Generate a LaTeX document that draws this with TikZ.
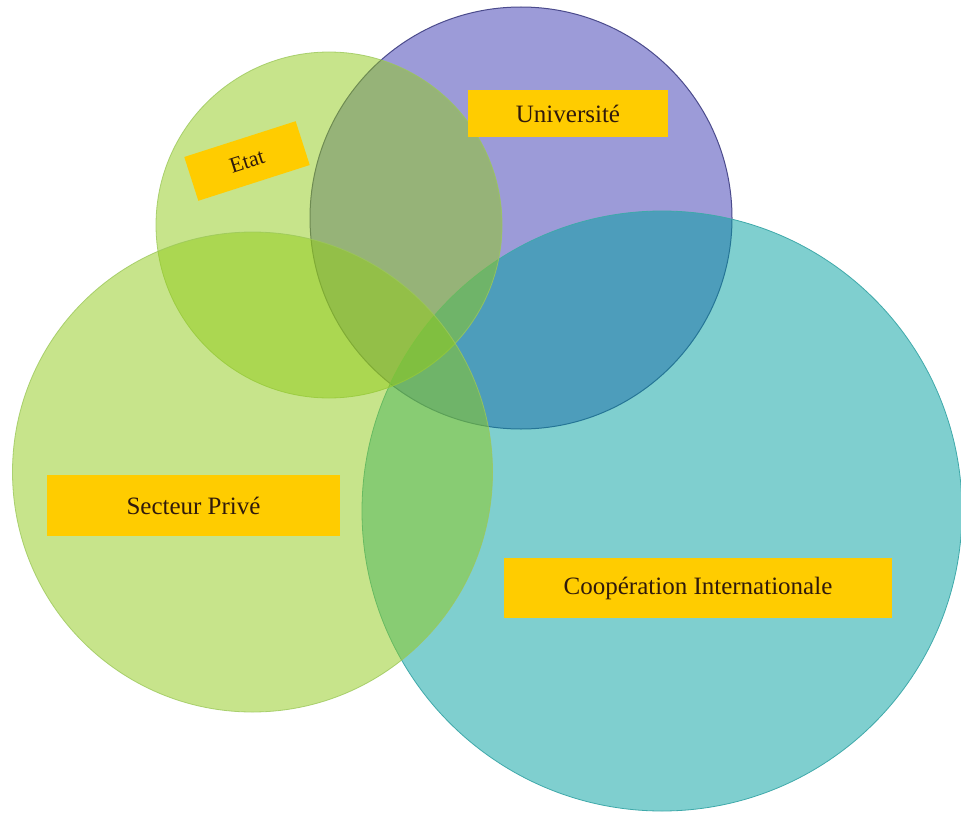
\documentclass[tikz,border=0pt]{standalone}
\usepackage{fontspec}
\setmainfont{Liberation Serif}
\definecolor{univfill}{HTML}{9C9BD8}
\definecolor{univline}{HTML}{4B4B8C}
\definecolor{tealbase}{HTML}{00A0A0}
\definecolor{tealline}{HTML}{3FA9AA}
\definecolor{greenbase}{HTML}{91CB19}
\definecolor{greenline}{HTML}{9CC85A}
\definecolor{labelfill}{HTML}{FFCC00}
\definecolor{labeltext}{HTML}{301A0C}
\tikzset{
  labelbox/.style={fill=labelfill, text=labeltext, inner sep=0pt, font=\fontsize{25}{28}\selectfont},
  greencircle/.style={fill=greenbase, fill opacity=0.5, draw=greenline, draw opacity=0.8, line width=0.8pt},
}
\begin{document}
\begin{tikzpicture}[x=1pt,y=-1pt]
\useasboundingbox (0,0) rectangle (961,816);
\fill[white] (0,0) rectangle (961,816);
% Universite circle
\draw[fill=univfill, draw=univline, line width=1pt] (521,218) circle[radius=211];
% Cooperation circle
\draw[fill=tealbase, fill opacity=0.5, draw=tealline, line width=0.8pt] (662,511) circle[radius=300];
% Etat circle
\draw[greencircle] (329,225) circle[radius=173];
% Secteur prive circle
\draw[greencircle] (252.5,472) circle[radius=240];
% labels
\node[labelbox, minimum width=200pt, minimum height=47pt] (univ) at (568,113.5) {Université};
\node[labelbox, minimum width=293pt, minimum height=61pt] (prive) at (193.5,505.5) {Secteur Privé};
\node[labelbox, minimum width=388pt, minimum height=60pt] (coop) at (698,588) {Coopération Internationale};
\node[labelbox, minimum width=117pt, minimum height=46pt, rotate=17.8, font=\fontsize{22}{24}\selectfont] (etat) at (247,161) {Etat};
\end{tikzpicture}
\end{document}
